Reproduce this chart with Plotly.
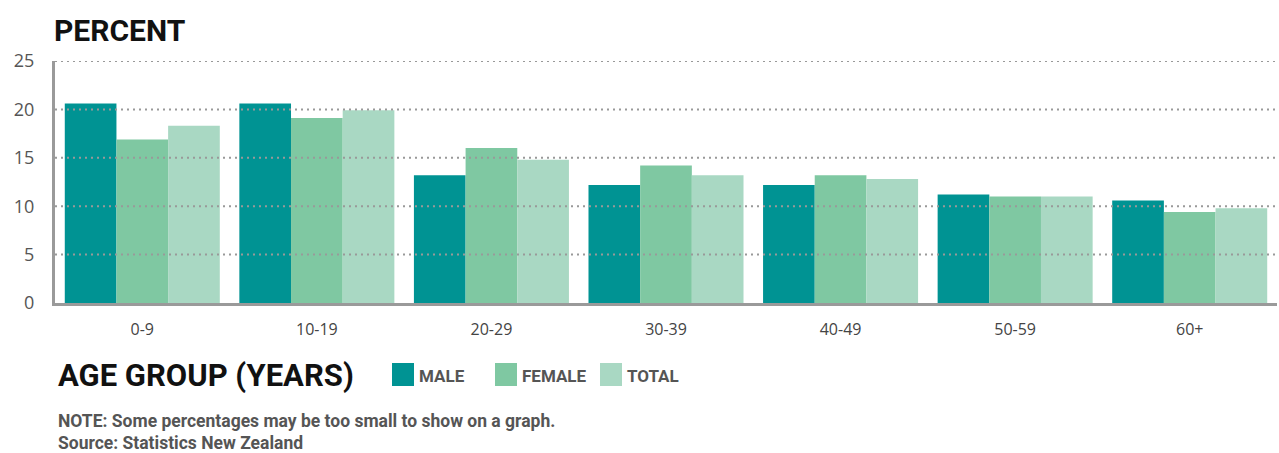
import plotly.graph_objects as go

categories = ["0-9", "10-19", "20-29", "30-39", "40-49", "50-59", "60+"]
male = [20.6, 20.6, 13.2, 12.2, 12.2, 11.2, 10.6]
female = [16.9, 19.1, 16.0, 14.2, 13.2, 11.0, 9.4]
total = [18.3, 19.9, 14.8, 13.2, 12.8, 11.0, 9.8]
series_names = ["MALE", "FEMALE", "TOTAL"]
series_colors = ["#009393", "#7fc8a2", "#a9d8c3"]
y_ticks = [0, 5, 10, 15, 20, 25]

W, H = 1279, 453
L, R, T, B = 55, 2, 61, 150
PW, PH = W - L - R, H - T - B

def px(x):
    return (x - L) / PW

def py(y):
    return (H - B - y) / PH

COND = "Roboto, Open Sans, sans-serif"
REG = "Open Sans, Lato, sans-serif"

fig = go.Figure()
for name, vals, col in zip(series_names, [male, female, total], series_colors):
    fig.add_trace(go.Bar(x=categories, y=vals, name=name, marker=dict(color=col, line=dict(width=0)),
                         showlegend=False))

fig.update_layout(
    width=W, height=H,
    margin=dict(l=L, r=R, t=T, b=B),
    paper_bgcolor="white", plot_bgcolor="white",
    barmode="group", bargap=0.112, bargroupgap=0,
    font=dict(family=REG, size=15, color="#555555"),
)
fig.update_yaxes(range=[0, 25], tickvals=y_ticks, showgrid=False, zeroline=False,
                 showline=True, linecolor="#9a9a9a", linewidth=3,
                 ticks="outside", ticklen=14, tickcolor="rgba(0,0,0,0)",
                 tickfont=dict(size=18, color="#555555"))
fig.update_xaxes(showgrid=False, showline=True, linecolor="#9a9a9a", linewidth=3,
                 ticks="outside", ticklen=10, tickcolor="rgba(0,0,0,0)",
                 tickfont=dict(size=16, color="#444444"))

for v in y_ticks[1:]:
    fig.add_shape(type="line", xref="paper", yref="y", x0=0, x1=1, y0=v, y1=v,
                  line=dict(color="#999999", width=2, dash="2px,4px"), layer="above")

fig.add_annotation(text="<b>PERCENT</b>", xref="paper", yref="paper", x=px(52), y=py(30),
                   xanchor="left", yanchor="middle", showarrow=False,
                   font=dict(family=COND, size=30, color="#111111"))
fig.add_annotation(text="<b>AGE GROUP (YEARS)</b>", xref="paper", yref="paper", x=px(56), y=py(375),
                   xanchor="left", yanchor="middle", showarrow=False,
                   font=dict(family=COND, size=31, color="#111111"))

leg_x = [392, 495, 600]
for name, col, lx in zip(series_names, series_colors, leg_x):
    fig.add_shape(type="rect", xref="paper", yref="paper", x0=px(lx), x1=px(lx + 22),
                  y0=py(386), y1=py(363), fillcolor=col, line=dict(width=0))
    fig.add_annotation(text="<b>" + name + "</b>", xref="paper", yref="paper", x=px(lx + 25), y=py(376),
                       xanchor="left", yanchor="middle", showarrow=False,
                       font=dict(family=COND, size=17, color="#555555"))

fig.add_annotation(text="<b>NOTE: Some percentages may be too small to show on a graph.</b>",
                   xref="paper", yref="paper", x=px(56), y=py(421), xanchor="left", yanchor="middle",
                   showarrow=False, font=dict(family=COND, size=17.5, color="#555555"))
fig.add_annotation(text="<b>Source: Statistics New Zealand</b>",
                   xref="paper", yref="paper", x=px(56), y=py(443), xanchor="left", yanchor="middle",
                   showarrow=False, font=dict(family=COND, size=17.5, color="#555555"))

fig.write_html("out.html")
